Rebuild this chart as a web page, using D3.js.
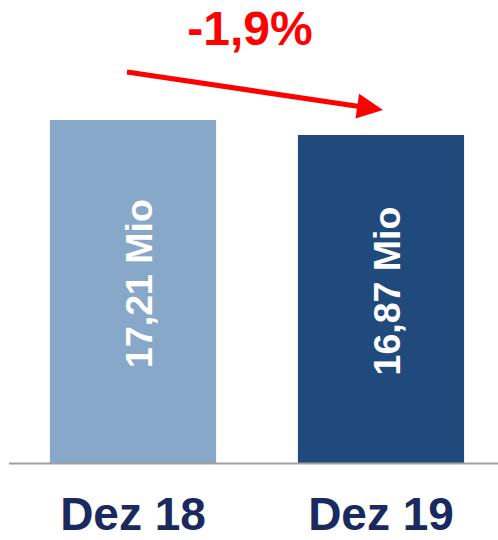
<!DOCTYPE html>
<html><head><meta charset="utf-8">
<script src="https://cdn.jsdelivr.net/npm/d3@7"></script>
<style>body{margin:0;background:#fff}svg{display:block}</style>
</head><body>
<svg id="c" width="498" height="540"></svg>
<script>
const categories = ["Dez 18", "Dez 19"];
const values = [17.21, 16.87];
const valueLabels = ["17,21 Mio", "16,87 Mio"];
const changeLabel = "-1,9%";
const barColors = ["#88a8c9", "#20497c"];

const svg = d3.select("#c");
const baseY = 463;
const x = d3.scaleBand().domain(categories).range([9, 505]).paddingInner(0.33).paddingOuter(0.165);
const y = d3.scaleLinear().domain([9.43, 17.21]).range([baseY, 120]);
const font = "'Liberation Sans', Arial, Helvetica, sans-serif";

svg.selectAll("rect.bar").data(values).join("rect")
  .attr("class","bar")
  .attr("x",(d,i)=>x(categories[i]))
  .attr("width",x.bandwidth())
  .attr("y",d=>y(d))
  .attr("height",d=>baseY-y(d))
  .attr("fill",(d,i)=>barColors[i]);

svg.append("line").attr("x1",9).attr("x2",498).attr("y1",baseY+0.5).attr("y2",baseY+0.5)
  .attr("stroke","#a0a0a0").attr("stroke-width",2);

// value labels (rotated)
svg.selectAll("text.val").data(values).join("text")
  .attr("class","val")
  .attr("transform",(d,i)=>{
    const cx = x(categories[i]) + x.bandwidth()/2 + 19;
    const cy = (y(d)+baseY)/2 - 8;
    return `translate(${cx},${cy}) rotate(-90)`;
  })
  .attr("text-anchor","middle")
  .attr("fill","#fff")
  .attr("font-family",font).attr("font-weight","bold").attr("font-size",37.5)
  .text((d,i)=>valueLabels[i]);

// category labels
svg.selectAll("text.cat").data(categories).join("text")
  .attr("class","cat")
  .attr("x",d=>x(d)+x.bandwidth()/2)
  .attr("y",530)
  .attr("text-anchor","middle")
  .attr("fill","#1a2a5e")
  .attr("font-family",font).attr("font-weight","bold").attr("font-size",46)
  .text(d=>d);

// change annotation
svg.append("text").attr("x",250).attr("y",45).attr("text-anchor","middle")
  .attr("fill","#ff0000").attr("font-family",font).attr("font-weight","bold").attr("font-size",48)
  .text(changeLabel);

const x0 = x(categories[0]) + x.bandwidth()/2 - 6, y0 = 72;
const tx = x(categories[1]) + x.bandwidth()/2 + 2, ty = 110;
const ang = Math.atan2(ty-y0, tx-x0);
const hl = 26, hw = 12.5;
const bx = tx - hl*Math.cos(ang), by = ty - hl*Math.sin(ang);
svg.append("line").attr("x1",x0).attr("y1",y0).attr("x2",bx+2*Math.cos(ang)).attr("y2",by+2*Math.sin(ang))
  .attr("stroke","#ff0000").attr("stroke-width",5);
svg.append("path")
  .attr("d",`M${tx},${ty}L${bx - hw*Math.sin(ang)},${by + hw*Math.cos(ang)}L${bx + hw*Math.sin(ang)},${by - hw*Math.cos(ang)}Z`)
  .attr("fill","#ff0000");
</script>
</body></html>
